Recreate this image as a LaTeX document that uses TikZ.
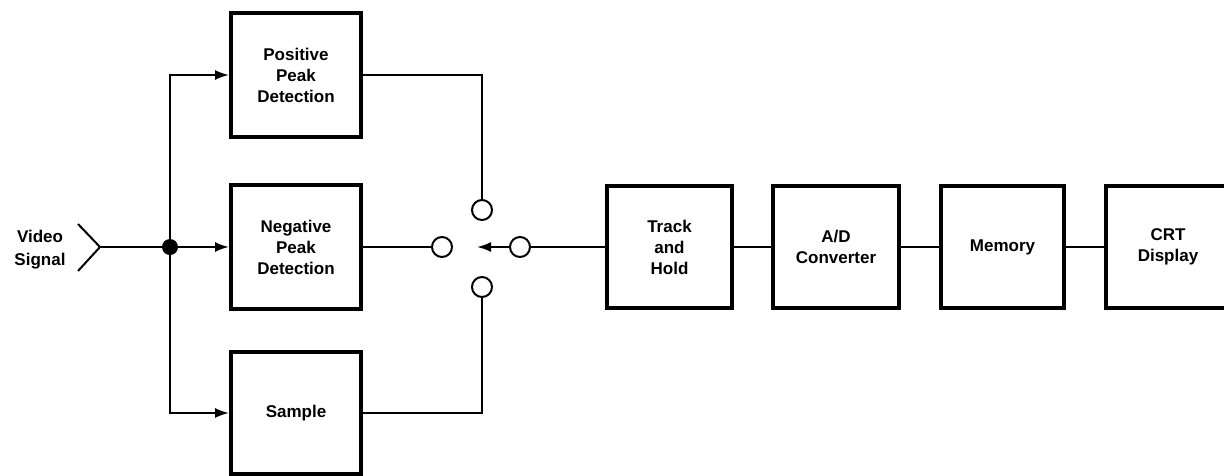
\documentclass[tikz,border=0pt]{standalone}
\usepackage{fontspec}
\setmainfont{Liberation Sans}
\usetikzlibrary{arrows.meta}
\begin{document}
\begin{tikzpicture}[x=1pt,y=-1pt,
  box/.style={draw, line width=4pt, rectangle, align=center, inner sep=0pt,
    font=\fontsize{17}{21}\selectfont\bfseries},
  wire/.style={line width=2pt},
  arr/.style={wire, -{Latex[length=14pt,width=10pt]}},
  sw/.style={circle, draw, line width=2pt, minimum size=20pt, inner sep=0pt},
  lab/.style={align=center, font=\fontsize{17}{23}\selectfont\bfseries}]
\useasboundingbox (0,0) rectangle (1224,475);
% left column
\node[box, minimum width=130pt, minimum height=124pt] (pos) at (296,75) {Positive\\Peak\\Detection};
\node[box, minimum width=130pt, minimum height=124pt] (neg) at (296,247) {Negative\\Peak\\Detection};
\node[box, minimum width=130pt, minimum height=122pt] (samp) at (296,413) {Sample};
% right chain
\node[box, minimum width=125pt, minimum height=122pt] (th) at (669.5,247) {Track\\and\\Hold};
\node[box, minimum width=126pt, minimum height=122pt] (ad) at (836,247) {A/D\\Converter};
\node[box, minimum width=123pt, minimum height=122pt] (mem) at (1002.5,247) {Memory};
\node[box, minimum width=124pt, minimum height=122pt] (crt) at (1168,247) {CRT\\Display};
% input
\node[lab] (vs) at (40,250) {Video\\Signal};
\coordinate (ant) at (100,247);
\coordinate (antU) at (78,224);
\coordinate (antD) at (78,271);
\node[circle, fill, minimum size=16pt, inner sep=0pt] (j) at (170,247) {};
\draw[wire] (antU) -- (ant) -- (antD);
\draw[wire] (ant) -- (j);
\draw[arr] (j.center) |- (pos.west);
\draw[arr] (j) -- (neg.west);
\draw[arr] (j.center) |- (samp.west);
% switch
\node[sw] (sT) at (482,210) {};
\node[sw] (sL) at (442,247) {};
\node[sw] (sB) at (482,287) {};
\node[sw] (sR) at (520,247) {};
\coordinate (tip) at (477,247);
\draw[wire] (pos.east) -| (sT.north);
\draw[wire] (neg.east) -- (sL.west);
\draw[wire] (samp.east) -| (sB.south);
\draw[arr] (sR.west) -- (tip);
\draw[wire] (sR.east) -- (th.west);
\draw[wire] (th.east) -- (ad.west);
\draw[wire] (ad.east) -- (mem.west);
\draw[wire] (mem.east) -- (crt.west);
\end{tikzpicture}
\end{document}
